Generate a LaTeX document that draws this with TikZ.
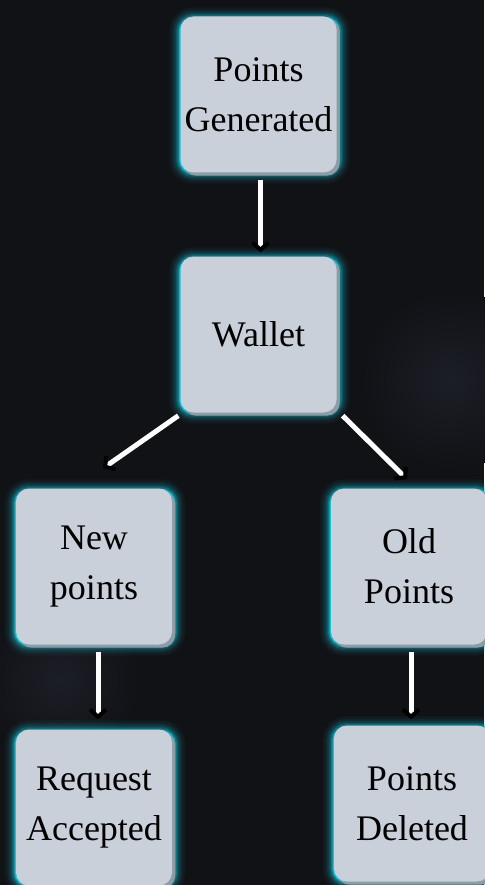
\documentclass[tikz,border=0pt]{standalone}
\usepackage{fontspec}
\setmainfont{Liberation Serif}
\usetikzlibrary{arrows.meta,calc}

\definecolor{bgdark}{HTML}{111216}
\definecolor{bghaze}{HTML}{1C1E26}
\definecolor{boxfill}{HTML}{C9D0D9}
\definecolor{boxshade}{HTML}{8E9CA6}
\definecolor{glowcyan}{HTML}{18C9DF}

\pgfdeclarelayer{bg}
\pgfdeclarelayer{halo}
\pgfsetlayers{bg,halo,main}

\tikzset{
  flowbox/.style={rounded corners=13pt, fill=boxfill, minimum width=156pt,
    minimum height=156pt, inner sep=0pt, align=center,
    font=\fontsize{36}{50}\selectfont, text=black},
  link/.style={draw=white, line width=5pt,
    -{Straight Barb[color=black,length=7pt,width=16pt,line width=4pt]}},
}

\begin{document}
\begin{tikzpicture}[x=1pt,y=-1pt]
\useasboundingbox (0,0) rectangle (484,885);

% dark backdrop with a few faint hazy patches
\begin{pgfonlayer}{bg}
  \fill[bgdark] (0,0) rectangle (484,885);
  \shade[inner color=bghaze, outer color=bgdark] (450,380) circle (90);
  \shade[inner color=bghaze, outer color=bgdark] (60,680) circle (80);
\end{pgfonlayer}

% boxes
\node[flowbox] (gen)    at (258.5, 94.5) {Points\\Generated};
\node[flowbox] (wallet) at (258.5,334.5) {Wallet};
\node[flowbox] (newp)   at (94,566.5)    {New\\points};
\node[flowbox] (oldp)   at (409,566.5)   {Old\\Points};
\node[flowbox] (req)    at (94,807.5)    {Request\\Accepted};
\node[flowbox] (del)    at (412,803.5)   {Points\\Deleted};

% cyan glow and grey drop edge behind each box
\begin{pgfonlayer}{halo}
  \foreach \n in {gen,wallet,newp,oldp,req,del} {
    \foreach \w/\o in {22/0.05,17/0.08,13/0.12,9/0.18,6/0.28,3/0.6,1.5/0.9}
      \draw[glowcyan, line width=\w pt, opacity=\o, rounded corners=13pt]
        (\n.south west) rectangle ($(\n.north east)+(2,2)$);
    \fill[boxshade, rounded corners=13pt]
      ($(\n.south west)+(3,3)$) rectangle ($(\n.north east)+(3,3)$);
  }
\end{pgfonlayer}

% connectors
\draw[link] ($(gen.south)+(2,7)$) -- ($(wallet.north)+(2,-4)$);
\draw[link] ($(wallet.south west)+(-2,3)$) -- ($(newp.north)+(9,-20)$);
\draw[link] ($(wallet.south east)+(6,3)$) -- ($(oldp.north)+(-2,-9)$);
\draw[link] ($(newp.south)+(4,7)$) -- ($(req.north)+(4,-10)$);
\draw[link] ($(oldp.south)+(2,7)$) -- ($(del.north)+(-1,-6)$);
\end{tikzpicture}
\end{document}
